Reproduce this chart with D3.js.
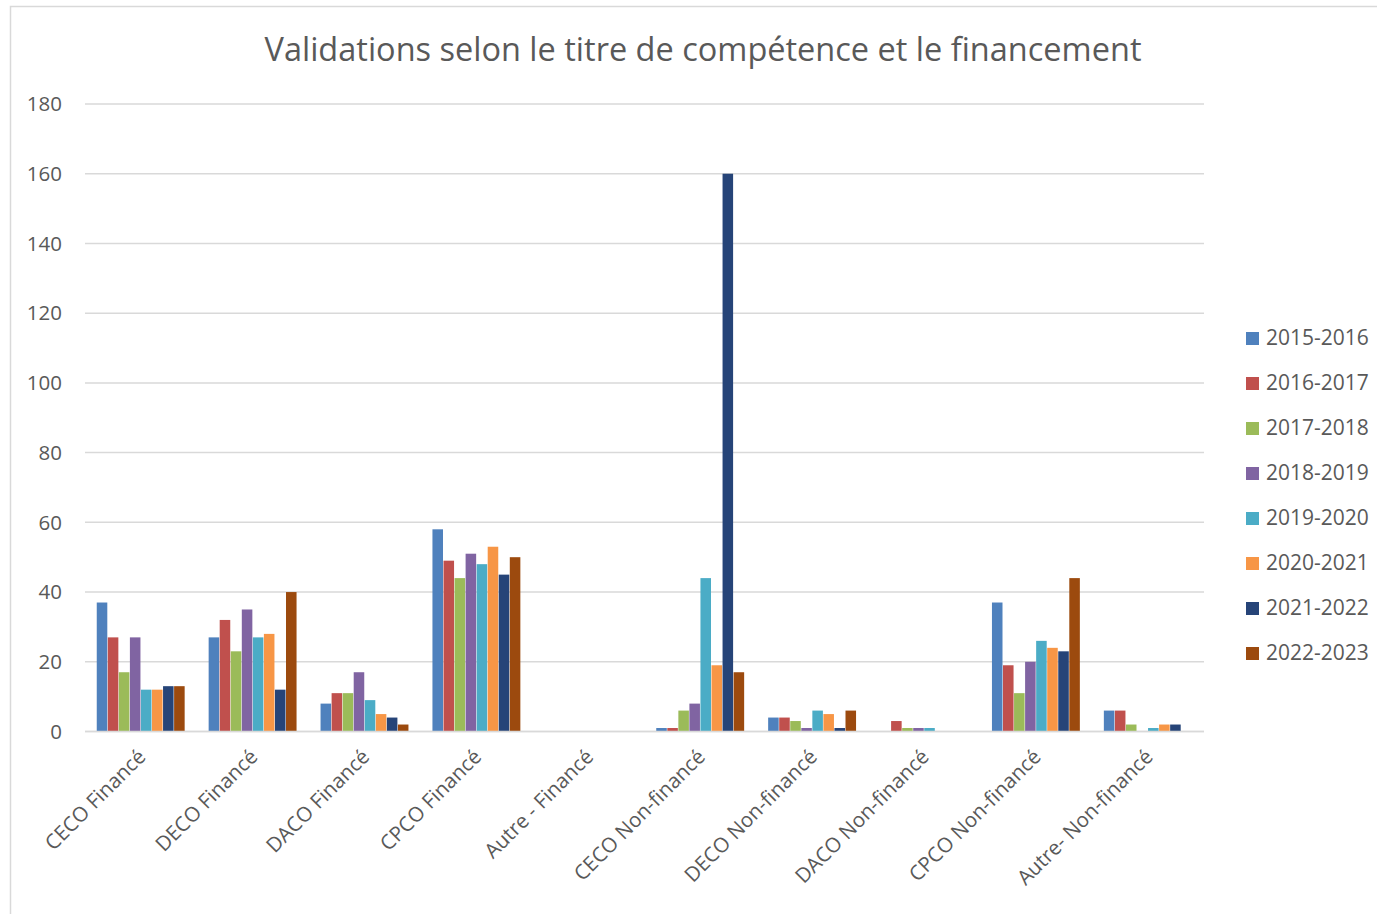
<!DOCTYPE html>
<html>
<head>
<meta charset="utf-8">
<script src="https://cdn.jsdelivr.net/npm/d3@7"></script>
<style>
  body { margin: 0; background: #fff; }
  text { font-family: "Open Sans", Lato, sans-serif; fill: #595959; }
</style>
</head>
<body>
<svg id="chart" width="1377" height="914"></svg>
<script>
var width = 1377;
var height = 914;

// categories (x axis)
var categories = ["CECO Financé", "DECO Financé", "DACO Financé", "CPCO Financé", "Autre - Financé",
  "CECO Non-financé", "DECO Non-financé", "DACO Non-financé", "CPCO Non-financé", "Autre- Non-financé"];

// one series per school year
var years = ["2015-2016", "2016-2017", "2017-2018", "2018-2019", "2019-2020", "2020-2021", "2021-2022", "2022-2023"];

var v2015 = [37, 27, 8, 58, 0, 1, 4, 0, 37, 6];
var v2016 = [27, 32, 11, 49, 0, 1, 4, 3, 19, 6];
var v2017 = [17, 23, 11, 44, 0, 6, 3, 1, 11, 2];
var v2018 = [27, 35, 17, 51, 0, 8, 1, 1, 20, 0];
var v2019 = [12, 27, 9, 48, 0, 44, 6, 1, 26, 1];
var v2020 = [12, 28, 5, 53, 0, 19, 5, 0, 24, 2];
var v2021 = [13, 12, 4, 45, 0, 160, 1, 0, 23, 2];
var v2022 = [13, 40, 2, 50, 0, 17, 6, 0, 44, 0];

var yTicks = [0, 20, 40, 60, 80, 100, 120, 140, 160, 180];

var colors = ["#4f81bd", "#c0504d", "#9bbb59", "#8064a2", "#4bacc6", "#f79646", "#264478", "#9c4a0e"];

var series = [v2015, v2016, v2017, v2018, v2019, v2020, v2021, v2022];

var svg = d3.select("#chart");

// chart frame
svg.append("rect")
  .attr("x", 10.5).attr("y", 6.5)
  .attr("width", 1380).attr("height", 920)
  .attr("fill", "none")
  .attr("stroke", "#d9d9d9")
  .attr("stroke-width", 1.5);

var plotLeft = 85, plotRight = 1204, plotTop = 104, plotBottom = 731.5;

var xScale = d3.scaleBand()
  .domain(categories)
  .range([plotLeft, plotRight])
  .paddingInner(0.21)
  .paddingOuter(0.105);

var xInner = d3.scaleBand()
  .domain(years)
  .range([0, xScale.bandwidth()]);

var yScale = d3.scaleLinear()
  .domain([0, 180])
  .range([plotBottom, plotTop]);

// title
svg.append("text")
  .attr("x", 703)
  .attr("y", 61)
  .attr("text-anchor", "middle")
  .style("font-size", "32.5px")
  .text("Validations selon le titre de compétence et le financement");

// gridlines
svg.append("g")
  .selectAll("line")
  .data(yTicks)
  .enter().append("line")
  .attr("x1", plotLeft)
  .attr("x2", plotRight)
  .attr("y1", function(d) { return yScale(d); })
  .attr("y2", function(d) { return yScale(d); })
  .attr("stroke", "#d9d9d9")
  .attr("stroke-width", 1.5);

// y labels
svg.append("g")
  .selectAll("text")
  .data(yTicks)
  .enter().append("text")
  .attr("x", 62)
  .attr("y", function(d) { return yScale(d); })
  .attr("dy", "0.35em")
  .attr("text-anchor", "end")
  .style("font-size", "20.5px")
  .text(function(d) { return d; });

// bars
series.forEach(function(vals, s) {
  svg.append("g")
    .selectAll("rect")
    .data(vals)
    .enter().append("rect")
    .attr("x", function(d, i) { return xScale(categories[i]) + xInner(years[s]); })
    .attr("y", function(d) { return yScale(d); })
    .attr("width", xInner.bandwidth() - 0.5)
    .attr("height", function(d) { return plotBottom - yScale(d); })
    .attr("fill", colors[s]);
});

// baseline
svg.append("line")
  .attr("x1", plotLeft).attr("x2", plotRight)
  .attr("y1", plotBottom).attr("y2", plotBottom)
  .attr("stroke", "#d9d9d9")
  .attr("stroke-width", 1.5);

// x labels
svg.append("g")
  .selectAll("text")
  .data(categories)
  .enter().append("text")
  .attr("transform", function(d) {
    return "translate(" + (xScale(d) + xScale.bandwidth() / 2 + 6) + ",758) rotate(-45)";
  })
  .attr("text-anchor", "end")
  .style("font-size", "20.5px")
  .text(function(d) { return d; });

// legend
var legend = svg.append("g")
  .selectAll("g")
  .data(years)
  .enter().append("g")
  .attr("transform", function(d, i) { return "translate(1246," + (338 + i * 45) + ")"; });

legend.append("rect")
  .attr("x", 0).attr("y", -6)
  .attr("width", 13).attr("height", 13)
  .attr("fill", function(d, i) { return colors[i]; });

legend.append("text")
  .attr("x", 20)
  .attr("y", 0)
  .attr("dy", "0.35em")
  .style("font-size", "21px")
  .text(function(d) { return d; });
</script>
</body>
</html>
